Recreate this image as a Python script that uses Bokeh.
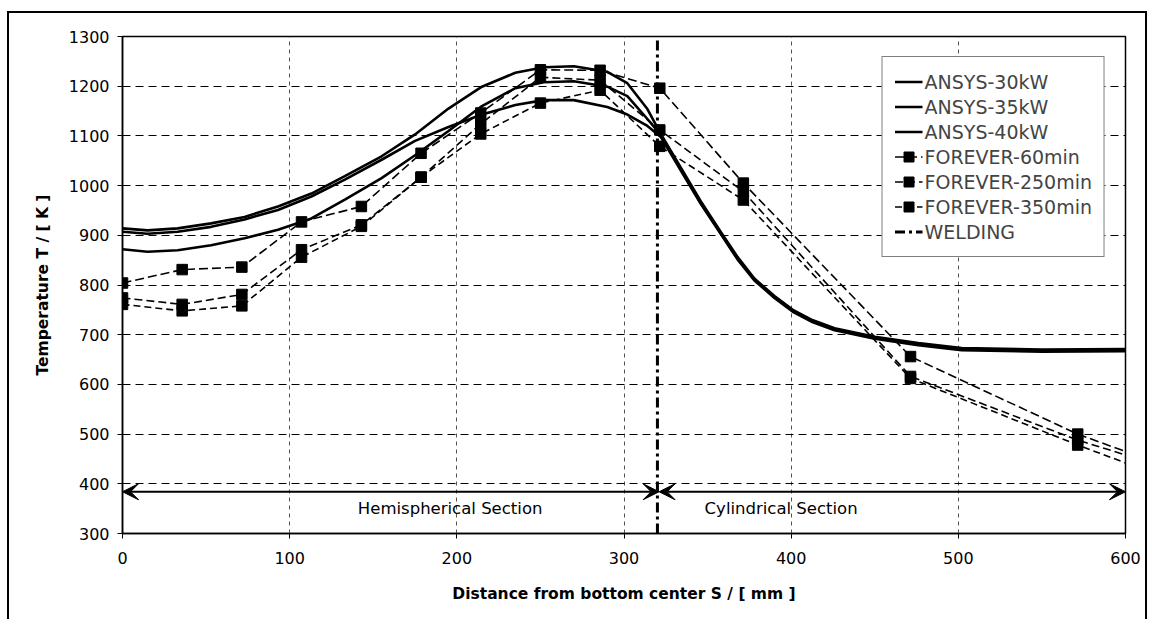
from bokeh.plotting import figure
from bokeh.models import (Legend, LegendItem, Arrow, VeeHead, Label, FixedTicker, Range1d)
from bokeh.embed import file_html
from bokeh.resources import INLINE

# ---------------- data ----------------
x_ticks = [0, 100, 200, 300, 400, 500, 600]
y_ticks = [300, 400, 500, 600, 700, 800, 900, 1000, 1100, 1200, 1300]

# ANSYS curves (distance in mm, temperature in K)
ansys_s = [0, 15, 33, 53, 73, 93, 113, 133, 155, 175, 195, 215, 235, 252, 270, 290,
           302, 314, 322, 334, 346, 358, 368, 378, 390, 401, 413, 426, 450, 476, 502, 550, 600]
ansys_30 = [907, 903, 907, 917, 932, 951, 978, 1012, 1052, 1090, 1118, 1143, 1162, 1172,
            1172, 1158, 1143, 1120, 1098, 1030, 963, 902, 851, 809, 774, 746, 725, 709,
            692, 679, 669, 666, 667]
ansys_35 = [872, 867, 870, 880, 894, 911, 934, 972, 1015, 1061, 1110, 1160, 1196, 1208,
            1210, 1199, 1180, 1134, 1102, 1033, 965, 904, 853, 811, 776, 748, 727, 711,
            694, 681, 671, 668, 669]
ansys_40 = [914, 910, 914, 924, 937, 958, 984, 1019, 1059, 1103, 1155, 1199, 1227, 1238,
            1240, 1229, 1206, 1154, 1104, 1036, 968, 906, 856, 813, 778, 750, 729, 713,
            696, 683, 673, 670, 671]

# FOREVER results (markers at measuring points, line continues to the end of the axis)
forever_s = [0, 35.7, 71.4, 107.1, 142.9, 178.6, 214.3, 250.0, 285.7, 321.4, 371.4, 471.4, 571.4]
forever_line_s = forever_s + [600]
forever_60 = [804, 831, 836, 927, 958, 1065, 1146, 1233, 1232, 1196, 1005, 656, 500, 465]
forever_250 = [774, 761, 781, 871, 921, 1017, 1124, 1218, 1212, 1112, 988, 616, 488, 458]
forever_350 = [761, 748, 758, 856, 918, 1017, 1104, 1166, 1192, 1079, 971, 612, 478, 442]

# welding seam position
welding_s = [320, 320]
welding_t = [300, 1300]

# section annotations
hemi_span = [0, 321]
cyl_span = [321, 600]
section_t = 384
section_labels = ["Hemispherical Section", "Cylindrical Section"]
section_label_pos = [(196, 350), (394, 350)]

# ---------------- figure ----------------
W, H = 1140, 608
FONT = "DejaVu Sans"

p = figure(width=W, height=H, output_backend="svg", toolbar_location=None,
           x_range=Range1d(0, 600), y_range=Range1d(300, 1300),
           min_border_left=113, min_border_right=24,
           min_border_top=23, min_border_bottom=88)

# outer page frame of the scanned figure
p.styles = {"margin-left": "7px", "margin-top": "11px",
            "border-left": "2px solid black", "border-top": "2px solid black",
            "border-right": "2px solid black"}

p.outline_line_color = "black"
p.outline_line_width = 1.5
p.background_fill_color = "white"
p.border_fill_color = "white"

p.xaxis.ticker = FixedTicker(ticks=x_ticks)
p.yaxis.ticker = FixedTicker(ticks=y_ticks)
p.xaxis.minor_tick_line_color = None
p.yaxis.minor_tick_line_color = None
for ax in (p.xaxis[0], p.yaxis[0]):
    ax.axis_line_color = "black"
    ax.axis_line_width = 1.5
    ax.major_tick_line_color = "black"
    ax.major_tick_line_width = 1
    ax.major_tick_in = 0
    ax.major_tick_out = 5
    ax.major_label_text_font = FONT
    ax.major_label_text_font_size = "16px"
    ax.major_label_text_color = "black"
    ax.axis_label_text_font = FONT
    ax.axis_label_text_font_size = "15.5px"
    ax.axis_label_text_font_style = "bold"
    ax.axis_label_text_color = "black"

p.xaxis.axis_label = "Distance from bottom center S / [ mm ]"
p.yaxis.axis_label = "Temperature T / [ K ]"
p.xaxis.major_label_standoff = 13
p.yaxis.major_label_standoff = 8
p.xaxis.axis_label_standoff = 18
p.yaxis.axis_label_standoff = 14

p.ygrid.grid_line_color = "black"
p.ygrid.grid_line_dash = "8 5"
p.ygrid.grid_line_width = 1
p.xgrid.grid_line_color = "#555555"
p.xgrid.grid_line_dash = "4 4"
p.xgrid.grid_line_width = 1

# ANSYS curves
r30 = p.line(ansys_s, ansys_30, line_color="black", line_width=2.6)
r35 = p.line(ansys_s, ansys_35, line_color="black", line_width=2.6)
r40 = p.line(ansys_s, ansys_40, line_color="black", line_width=2.6)

# FOREVER
f_items = []
for vals, dash, lbl in [(forever_60, "9 4", "FOREVER-60min"),
                        (forever_250, "8 4", "FOREVER-250min"),
                        (forever_350, "7 4", "FOREVER-350min")]:
    lr = p.line(forever_line_s, vals, line_color="black", line_width=1.6, line_dash=dash)
    sr = p.scatter(forever_s, vals[:len(forever_s)], marker="square", size=10.5,
                   fill_color="black", line_color="black")
    f_items.append(LegendItem(label=lbl, renderers=[lr, sr]))

# welding line
rw = p.line(welding_s, welding_t, line_color="black", line_width=3, line_dash="10 4 3 4")

# section arrows and labels
for span in (hemi_span, cyl_span):
    p.add_layout(Arrow(x_start=span[0], y_start=section_t, x_end=span[1], y_end=section_t,
                       line_color="black", line_width=2,
                       start=VeeHead(size=16, fill_color="black", line_color="black", line_width=1),
                       end=VeeHead(size=16, fill_color="black", line_color="black", line_width=1)))
for txt, (lx, ly) in zip(section_labels, section_label_pos):
    p.add_layout(Label(x=lx, y=ly, text=txt, text_align="center", text_baseline="middle",
                       text_font=FONT, text_font_size="16.5px", text_color="black"))

legend = Legend(items=[LegendItem(label="ANSYS-30kW", renderers=[r30]),
                       LegendItem(label="ANSYS-35kW", renderers=[r35]),
                       LegendItem(label="ANSYS-40kW", renderers=[r40])] + f_items +
                      [LegendItem(label="WELDING", renderers=[rw])],
                location="top_right", margin=20, padding=12, spacing=0,
                label_text_font=FONT, label_text_font_size="19px",
                label_height=25, glyph_height=25, glyph_width=28, label_standoff=2,
                border_line_color="black", border_line_width=1,
                background_fill_color="white", background_fill_alpha=1)
p.add_layout(legend)

open("out.html", "w").write(file_html(p, INLINE))
